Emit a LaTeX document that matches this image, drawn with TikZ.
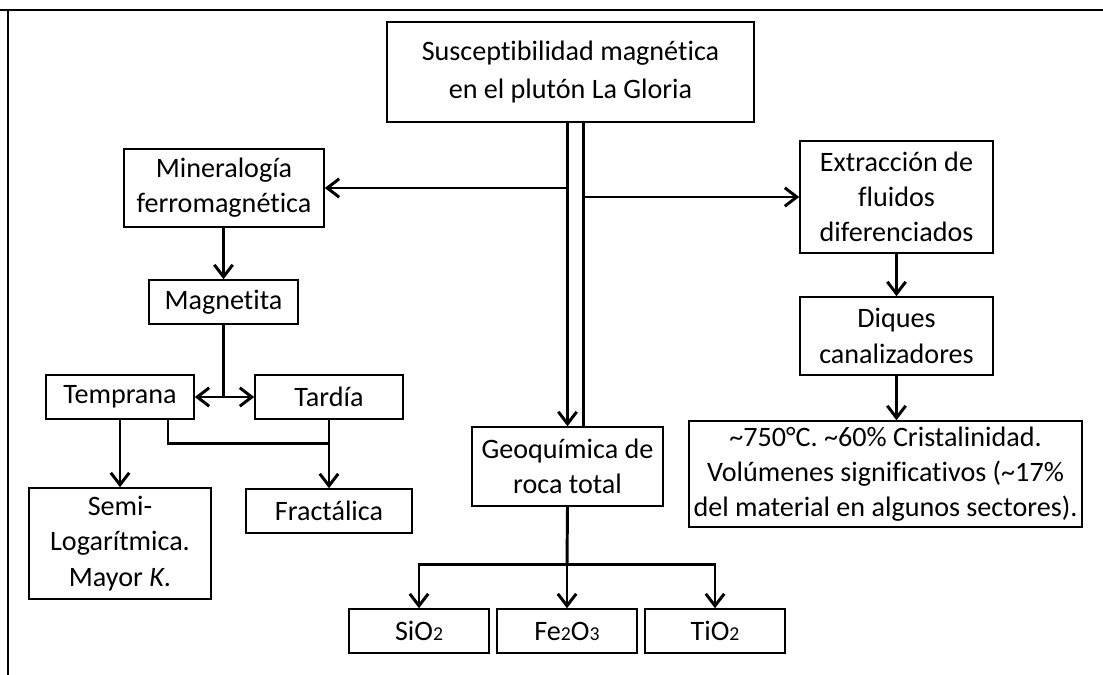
\documentclass[tikz,border=0pt]{standalone}
\usepackage{fontspec}
\setmainfont{Carlito}[Ligatures=NoCommon]
\usetikzlibrary{arrows.meta,positioning,calc}
\newlength{\px}
\setlength{\px}{0.025cm}
\newcommand{\quimsub}[1]{{\fontsize{14pt}{14pt}\selectfont #1}}

\begin{document}
\begin{tikzpicture}[x=0.025cm, y=-0.025cm, font=\fontsize{20pt}{25pt}\selectfont,
  caja/.style={draw, line width=1.1pt, align=center, inner sep=0pt},
  linea/.style={line width=2.1pt},
  flecha/.style={line width=2.1pt, -{Straight Barb[length=3mm,width=4.6mm]}},
  dflecha/.style={line width=2.1pt, {Straight Barb[length=3mm,width=4.6mm]}-{Straight Barb[length=3mm,width=4.6mm]}}]
\useasboundingbox (0,0) rectangle (1103,675);
% marco
\draw[line width=1.2pt] (0,10) -- (1103,10);
\draw[line width=1.6pt] (8,10) -- (8,675);
% =================== cajas ===================
\node[caja, minimum width=367\px, minimum height=100\px] (sus) at (570.5,72)
   {Susceptibilidad magnética\\[2pt]en el plutón La Gloria};
\node[caja, minimum width=200\px, minimum height=78\px] (mine) at (224,188)
   {Mineralogía\\ferromagnética};
\node[caja, minimum width=149\px, minimum height=44\px] (magn) at (223.5,302) {Magnetita};
\node[caja, minimum width=148\px, minimum height=44\px] (temp) at (120,397) {Temprana};
\node[caja, minimum width=148\px, minimum height=44\px] (tard) at (329,397) {Tardía};
\node[caja, minimum width=182\px, minimum height=111\px] (semi) at (120,543.5)
   {Semi-\\Logarítmica.\\Mayor \textit{K}.};
\node[caja, minimum width=166\px, minimum height=44\px] (frac) at (329,511) {Fractálica};
\node[caja, minimum width=191\px, minimum height=79\px] (geo) at (567.5,466.5)
   {Geoquímica de\\roca total};
\node[caja, minimum width=140\px, minimum height=44\px] (sio) at (419,631) {SiO\quimsub{2}};
\node[caja, minimum width=140\px, minimum height=44\px] (feo) at (567,631) {Fe\quimsub{2}O\quimsub{3}};
\node[caja, minimum width=140\px, minimum height=44\px] (tio) at (715,631) {TiO\quimsub{2}};
\node[caja, minimum width=193\px, minimum height=112\px] (extr) at (896.5,197)
   {Extracción de\\fluidos\\diferenciados};
\node[caja, minimum width=193\px, minimum height=78\px] (diq) at (896.5,336)
   {Diques\\canalizadores};
\node[caja, minimum width=393\px, minimum height=106\px] (crist) at (885.5,474)
   {\textasciitilde750°C. \textasciitilde60\% Cristalinidad.\\
    Volúmenes significativos (\textasciitilde17\%\\
    del material en algunos sectores).};
% =================== conectores ===================
% doble linea central
\draw[flecha] (sus.south -| geo.north) -- (geo.north);
\draw[linea] ([xshift=16\px]sus.south -| geo.north) -- ([xshift=16\px]geo.north);
\draw[flecha] (mine.east -| geo.north) -- (mine.east);
\draw[flecha] ([xshift=16\px]geo.north |- extr.west) -- (extr.west);
% rama izquierda
\draw[flecha] (mine.south -| magn.north) -- (magn.north);
\coordinate (split) at (magn.south |- temp.east);
\draw[linea] (magn.south) -- (split);
\draw[dflecha] (temp.east) -- (tard.west);
\draw[flecha] (temp.south) -- (semi.north);
\coordinate (jn) at ($(frac.north)+(0,-45)$);
\draw[linea] ([xshift=48\px]temp.south) |- (tard.south |- jn) -- (tard.south);
\draw[flecha] (jn) -- (frac.north);
% rama central
\coordinate (ramal) at ($(feo.north)+(0,-44)$);
\draw[linea] (geo.south) -- (ramal);
\draw[flecha] (ramal) -| (sio.north);
\draw[flecha] (ramal) -| (tio.north);
\draw[flecha] (ramal) -- (feo.north);
% rama derecha
\draw[flecha] (extr.south) -- (diq.north);
\draw[flecha] (diq.south) -- (diq.south |- crist.north);
\end{tikzpicture}
\end{document}
